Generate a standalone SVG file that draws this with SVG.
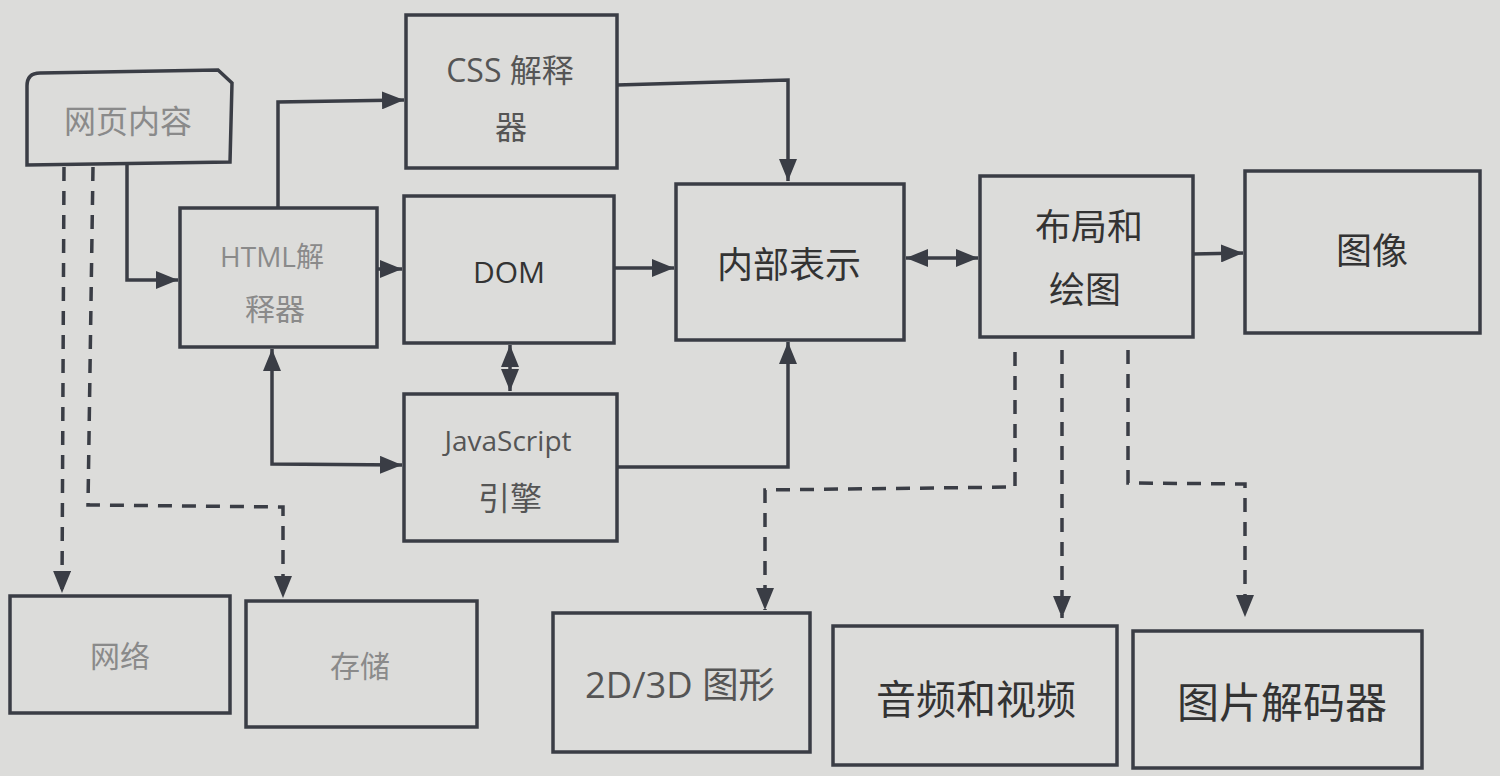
<svg xmlns="http://www.w3.org/2000/svg" width="1500" height="776" viewBox="0 0 1500 776">
<defs>
<marker id="ah" markerUnits="userSpaceOnUse" markerWidth="22" markerHeight="18" refX="22" refY="9" orient="auto-start-reverse" viewBox="0 0 22 18">
<path d="M0,0 L22,9 L0,18 z" fill="#3a3d45"/>
</marker>
<style>
.box{fill:none;stroke:#3a3d45;stroke-width:3.5}
.ln{fill:none;stroke:#3a3d45;stroke-width:3.5}
.dl{fill:none;stroke:#3a3d45;stroke-width:3.5;stroke-dasharray:14 10}
text{font-family:"Open Sans","Noto Sans CJK SC",sans-serif;text-anchor:middle}
.lt{fill:#8a8a8a}
.md{fill:#555}
.dk{fill:#333}
</style>
</defs>
<rect width="1500" height="776" fill="#dcdcda"/>
<g id="connectors">
<polyline class="ln" points="127,165 127,280 178,280" marker-end="url(#ah)"/>
<polyline class="ln" points="278,207 278,102 404,100" marker-end="url(#ah)"/>
<line class="ln" x1="377" y1="269" x2="402" y2="269" marker-end="url(#ah)"/>
<line class="ln" x1="614" y1="268" x2="674" y2="268" marker-end="url(#ah)"/>
<polyline class="ln" points="617,85 788,80 788,181" marker-end="url(#ah)"/>
<line class="ln" x1="510" y1="345" x2="510" y2="391" marker-start="url(#ah)" marker-end="url(#ah)"/>
<polyline class="ln" points="272,349 272,464 402,465" marker-start="url(#ah)" marker-end="url(#ah)"/>
<polyline class="ln" points="617,467 788,467 788,342" marker-end="url(#ah)"/>
<line class="ln" x1="906" y1="258" x2="978" y2="258" marker-start="url(#ah)" marker-end="url(#ah)"/>
<line class="ln" x1="1193" y1="254" x2="1243" y2="253" marker-end="url(#ah)"/>
<polyline class="dl" points="64,167 62,593" marker-end="url(#ah)"/>
<polyline class="dl" points="93,167 88,505 283,507 283,598" marker-end="url(#ah)"/>
<polyline class="dl" points="1015,352 1015,487 765,490 765,610" marker-end="url(#ah)"/>
<polyline class="dl" points="1062,350 1062,618" marker-end="url(#ah)"/>
<polyline class="dl" points="1128,350 1128,483 1245,484 1245,617" marker-end="url(#ah)"/>
</g>
<g id="webcontent">
<path class="box" d="M40,73 L218,70 L232,83 L230,162 L27,165 L27,86 Q27,73 40,73 z"/>
<text class="lt" x="128" y="133" font-size="32">网页内容</text>
</g>
<g id="html">
<rect class="box" x="180" y="208" width="197" height="139"/>
<text class="lt" x="272" y="267" font-size="28">HTML解</text>
<text class="lt" x="275" y="320" font-size="30">释器</text>
</g>
<g id="css">
<rect class="box" x="406" y="15" width="211" height="153"/>
<text class="md" x="510" y="82" font-size="32">CSS  解释</text>
<text class="md" x="511" y="139" font-size="32">器</text>
</g>
<g id="dom">
<rect class="box" x="404" y="196" width="210" height="147"/>
<text class="dk" x="509" y="283" font-size="30">DOM</text>
</g>
<g id="internal">
<rect class="box" x="676" y="184" width="228" height="156"/>
<text class="dk" x="789" y="278" font-size="36">内部表示</text>
</g>
<g id="js">
<rect class="box" x="404" y="394" width="213" height="147"/>
<text class="md" x="508" y="451" font-size="28">JavaScript</text>
<text class="md" x="510" y="510" font-size="32">引擎</text>
</g>
<g id="layout">
<rect class="box" x="980" y="176" width="213" height="161"/>
<text class="dk" x="1089" y="240" font-size="36">布局和</text>
<text class="dk" x="1085" y="303" font-size="36">绘图</text>
</g>
<g id="image">
<rect class="box" x="1245" y="171" width="235" height="162"/>
<text class="dk" x="1372" y="264" font-size="36">图像</text>
</g>
<g id="network">
<rect class="box" x="10" y="596" width="220" height="117"/>
<text class="lt" x="120" y="667" font-size="30">网络</text>
</g>
<g id="storage">
<rect class="box" x="246" y="601" width="231" height="126"/>
<text class="lt" x="360" y="677" font-size="30">存储</text>
</g>
<g id="graphics">
<rect class="box" x="553" y="613" width="257" height="139"/>
<text class="md" x="680" y="698" font-size="36" textLength="190" lengthAdjust="spacingAndGlyphs">2D/3D 图形</text>
</g>
<g id="audio">
<rect class="box" x="833" y="626" width="284" height="139"/>
<text class="dk" x="976" y="714" font-size="40">音频和视频</text>
</g>
<g id="decoder">
<rect class="box" x="1133" y="631" width="289" height="137"/>
<text class="dk" x="1282" y="718" font-size="42">图片解码器</text>
</g>
</svg>
